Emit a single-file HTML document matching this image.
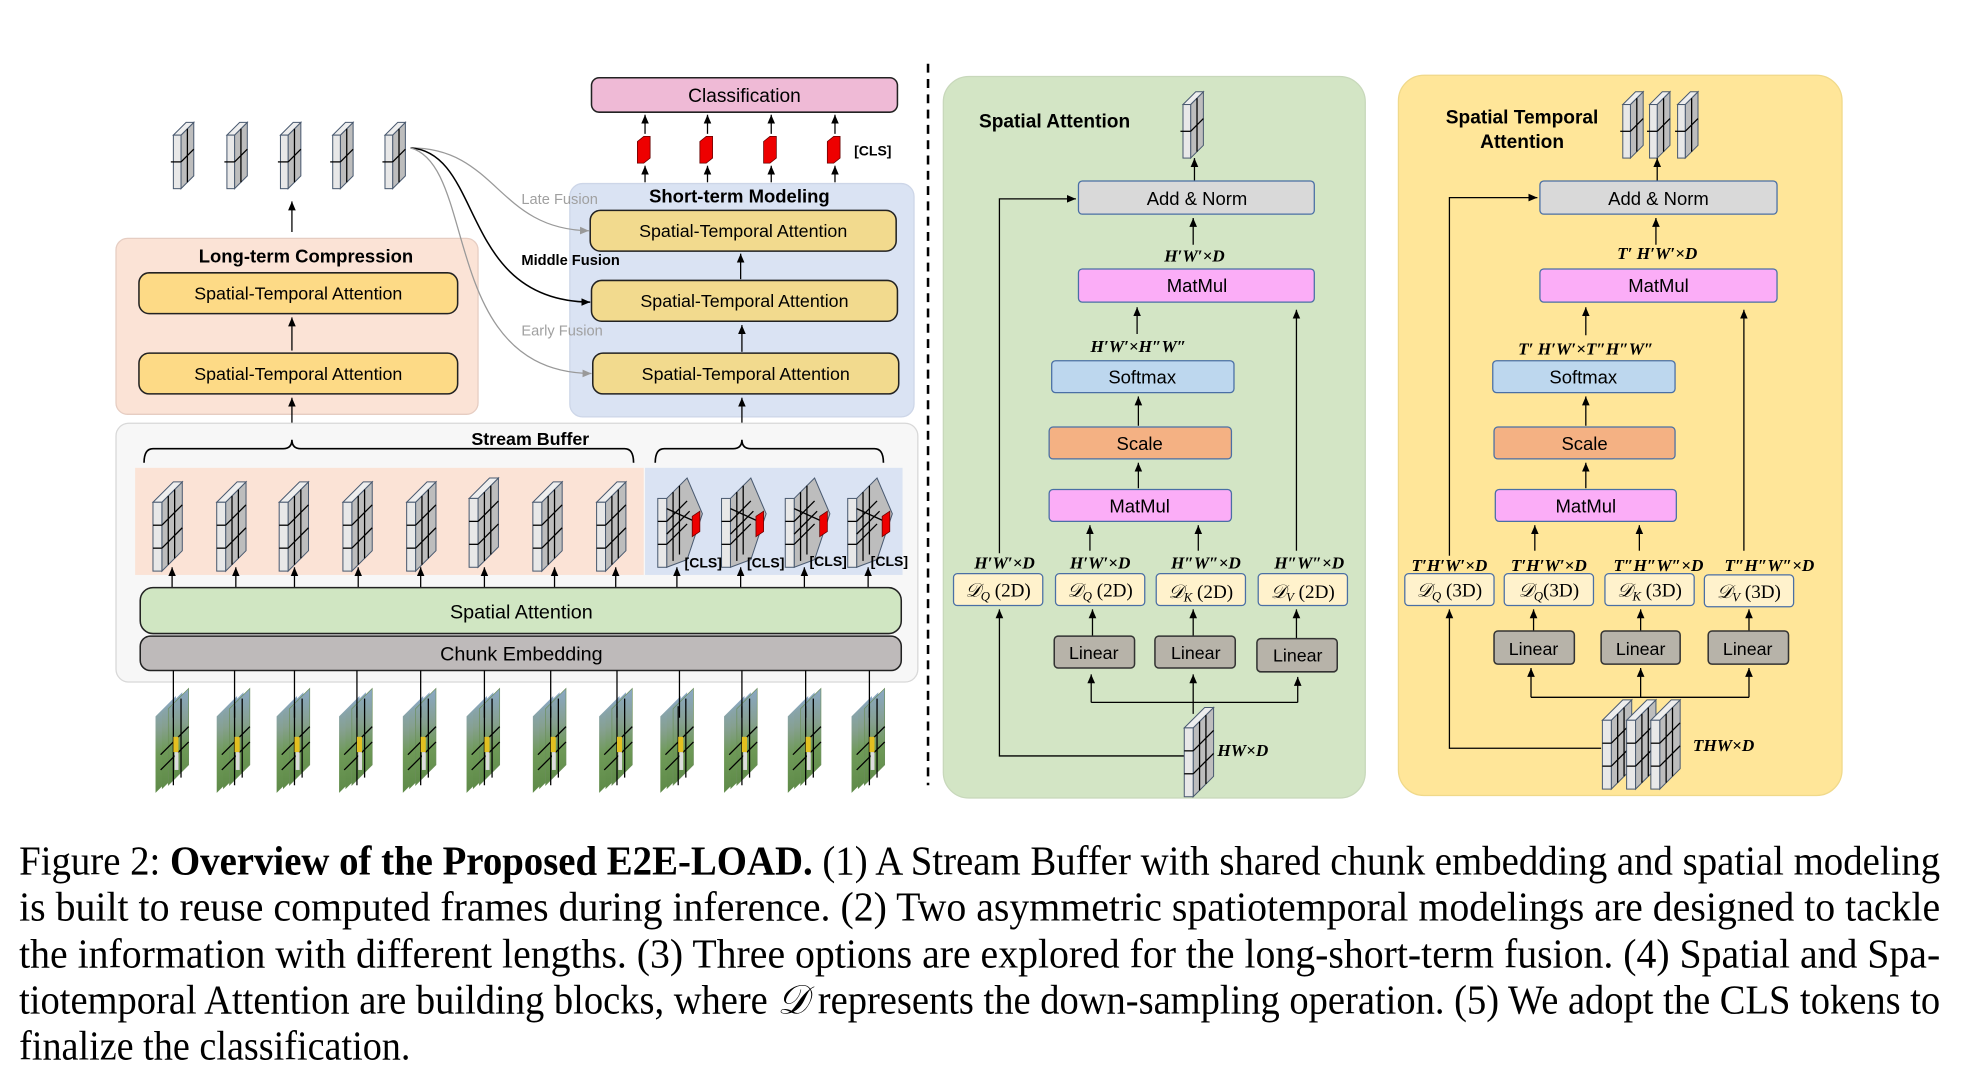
<!DOCTYPE html>
<html><head><meta charset="utf-8"><style>
html,body{margin:0;padding:0;background:#fff;}
svg{display:block;}
.t{font-family:"Liberation Sans",sans-serif;fill:#000;}
.m{font-family:"Liberation Serif",serif;font-style:italic;font-weight:bold;font-size:13.5px;fill:#000;}
.c{font-family:"Liberation Serif",serif;font-size:32px;fill:#000;}
</style></head><body>
<svg width="1981" height="1087" viewBox="0 0 1554 852.7" xmlns="http://www.w3.org/2000/svg">
<defs>
<marker id="ah" markerWidth="8" markerHeight="8" refX="7" refY="4" orient="auto" markerUnits="userSpaceOnUse"><path d="M0,1 L7,4 L0,7 Z" fill="#000"/></marker>
<marker id="ag" markerWidth="8" markerHeight="8" refX="7" refY="4" orient="auto" markerUnits="userSpaceOnUse"><path d="M0,1 L7,4 L0,7 Z" fill="#999"/></marker>
<linearGradient id="vg" x1="0" y1="0" x2="0" y2="1"><stop offset="0" stop-color="#8aa8c6"/><stop offset="0.35" stop-color="#86a090"/><stop offset="0.6" stop-color="#6f9a58"/><stop offset="1" stop-color="#5e8a48"/></linearGradient>
<g id="slab">
<polygon points="8,10 18,0 18,42 8,52" fill="#bdbdbd" stroke="#4a5a70" stroke-width="0.8"/>
<polygon points="2,10 12,0 18,0 8,10" fill="#eee" stroke="#4a5a70" stroke-width="0.8"/>
<rect x="2" y="10" width="6" height="42" fill="#e8e8e8" stroke="#4a5a70" stroke-width="0.8"/>
<line x1="0" y1="31" x2="8" y2="31" stroke="#000" stroke-width="1"/><line x1="8" y1="31" x2="18" y2="21" stroke="#000"/>
<line x1="13" y1="5" x2="13" y2="47" stroke="#000"/>
</g>
<g id="bc">
<polygon points="8,16 24,0 24,54 8,70" fill="#bdbdbd" stroke="#4a5a70" stroke-width="0.8"/>
<polygon points="1,16 17,0 24,0 8,16" fill="#eee" stroke="#4a5a70" stroke-width="0.8"/>
<rect x="1" y="16" width="7" height="54" fill="#e8e8e8" stroke="#4a5a70" stroke-width="0.8"/>
<line x1="1" y1="34" x2="8" y2="34" stroke="#000"/><line x1="1" y1="52" x2="8" y2="52" stroke="#000"/>
<line x1="8" y1="34" x2="24" y2="18" stroke="#000"/><line x1="8" y1="52" x2="24" y2="36" stroke="#000"/>
<line x1="13" y1="11" x2="13" y2="65" stroke="#000"/><line x1="18" y1="6" x2="18" y2="60" stroke="#000"/>
</g>
<g id="cc">
<polygon points="8,16 24,0 36,28 24,64 8,70" fill="#bdbdbd" stroke="#4a5a70" stroke-width="0.8"/>
<rect x="1" y="16" width="7" height="54" fill="#e8e8e8" stroke="#4a5a70" stroke-width="0.8"/>
<line x1="1" y1="34" x2="8" y2="34" stroke="#000"/><line x1="1" y1="52" x2="8" y2="52" stroke="#000"/>
<line x1="8" y1="34" x2="24" y2="18" stroke="#000"/><line x1="8" y1="52" x2="24" y2="36" stroke="#000"/>
<line x1="13" y1="11" x2="13" y2="65" stroke="#000"/><line x1="18" y1="6" x2="18" y2="60" stroke="#000"/>
<line x1="8" y1="24" x2="30" y2="34" stroke="#000"/><line x1="8" y1="44" x2="26" y2="26" stroke="#000"/>
<polygon points="28,30 34,26 34,42 28,46" fill="#e00" stroke="#600" stroke-width="0.6"/>
</g>
<g id="fr">
<polygon points="0,22 16,6 16,66 0,82" fill="url(#vg)"/>
<polygon points="5,19 21,3 21,63 5,79" fill="url(#vg)"/>
<polygon points="10,16 26,0 26,60 10,76" fill="url(#vg)" stroke="#6b8e5a" stroke-width="0.5"/>
<line x1="4" y1="52" x2="26" y2="30" stroke="#000"/><line x1="4" y1="64" x2="26" y2="42" stroke="#000"/>
<line x1="14" y1="14" x2="14" y2="76" stroke="#000"/><line x1="20" y1="8" x2="20" y2="70" stroke="#000"/>
<rect x="14" y="38" width="4" height="12" fill="#e3c020"/>
<rect x="15" y="50" width="3" height="14" fill="#ddd"/>
</g>
</defs>

<line x1="728" y1="50" x2="728" y2="616" stroke="#000" stroke-width="2" stroke-dasharray="7,5"/>

<use href="#slab" x="134" y="96"/><use href="#slab" x="176" y="96"/><use href="#slab" x="218" y="96"/><use href="#slab" x="259" y="96"/><use href="#slab" x="300" y="96"/>
<line x1="229" y1="182" x2="229" y2="158" stroke="#000" marker-end="url(#ah)"/>

<rect x="91" y="187" width="284" height="138" rx="9" fill="#fbe3d6" stroke="#e6cdc2"/>
<text class="t" x="240" y="206" font-size="14.5" font-weight="bold" text-anchor="middle">Long-term Compression</text>
<rect x="109" y="214" width="250" height="32" rx="8" fill="#fdda86" stroke="#222" stroke-width="1.2"/>
<text class="t" x="234" y="235" font-size="14" text-anchor="middle">Spatial-Temporal Attention</text>
<rect x="109" y="277" width="250" height="32" rx="8" fill="#fdda86" stroke="#222" stroke-width="1.2"/>
<text class="t" x="234" y="298" font-size="14" text-anchor="middle">Spatial-Temporal Attention</text>
<line x1="229" y1="275" x2="229" y2="249" stroke="#000" marker-end="url(#ah)"/>
<line x1="229" y1="339" x2="229" y2="312" stroke="#000" marker-end="url(#ah)"/>

<rect x="447" y="144" width="270" height="183" rx="10" fill="#dae3f3" stroke="#cdd6e8"/>
<text class="t" x="580" y="159" font-size="14.5" font-weight="bold" text-anchor="middle">Short-term Modeling</text>
<rect x="463" y="165" width="240" height="32" rx="8" fill="#f2da8e" stroke="#222" stroke-width="1.2"/>
<text class="t" x="583" y="186" font-size="14" text-anchor="middle">Spatial-Temporal Attention</text>
<rect x="464" y="220" width="240" height="32" rx="8" fill="#f2da8e" stroke="#222" stroke-width="1.2"/>
<text class="t" x="584" y="241" font-size="14" text-anchor="middle">Spatial-Temporal Attention</text>
<rect x="465" y="277" width="240" height="32" rx="8" fill="#f2da8e" stroke="#222" stroke-width="1.2"/>
<text class="t" x="585" y="298" font-size="14" text-anchor="middle">Spatial-Temporal Attention</text>
<line x1="581" y1="219" x2="581" y2="199" stroke="#000" marker-end="url(#ah)"/>
<line x1="582" y1="276" x2="582" y2="255" stroke="#000" marker-end="url(#ah)"/>
<line x1="582" y1="339" x2="582" y2="312" stroke="#000" marker-end="url(#ah)"/>

<rect x="464" y="61" width="240" height="27" rx="6" fill="#efbad6" stroke="#222" stroke-width="1.2"/>
<text class="t" x="584" y="80" font-size="15" text-anchor="middle">Classification</text>
<g>
<polygon points="500,111 505,107 510,107 510,124 505,128 500,128" fill="#e00" stroke="#600" stroke-width="0.6"/>
<polygon points="549,111 554,107 559,107 559,124 554,128 549,128" fill="#e00" stroke="#600" stroke-width="0.6"/>
<polygon points="599,111 604,107 609,107 609,124 604,128 599,128" fill="#e00" stroke="#600" stroke-width="0.6"/>
<polygon points="649,111 654,107 659,107 659,124 654,128 649,128" fill="#e00" stroke="#600" stroke-width="0.6"/>
</g>
<g stroke="#000" marker-end="url(#ah)">
<line x1="506" y1="105" x2="506" y2="90"/><line x1="555" y1="105" x2="555" y2="90"/><line x1="605" y1="105" x2="605" y2="90"/><line x1="655" y1="105" x2="655" y2="90"/>
<line x1="506" y1="143" x2="506" y2="130"/><line x1="555" y1="143" x2="555" y2="130"/><line x1="605" y1="143" x2="605" y2="130"/><line x1="655" y1="143" x2="655" y2="130"/>
</g>
<text class="t" x="670" y="122" font-size="11" font-weight="bold">[CLS]</text>

<path d="M322,116 C390,116 390,180 462,181" fill="none" stroke="#999" stroke-width="1" marker-end="url(#ag)"/>
<path d="M322,116 C380,120 360,236 463,237" fill="none" stroke="#000" stroke-width="1.2" marker-end="url(#ah)"/>
<path d="M322,116 C375,130 345,292 464,293" fill="none" stroke="#999" stroke-width="1" marker-end="url(#ag)"/>
<text class="t" x="409" y="160" font-size="11.5" style="fill:#a0a0a0">Late Fusion</text>
<text class="t" x="409" y="208" font-size="11.5" font-weight="bold">Middle  Fusion</text>
<text class="t" x="409" y="263" font-size="11.5" style="fill:#a0a0a0">Early Fusion</text>

<rect x="91" y="332" width="629" height="203" rx="10" fill="#f7f7f7" stroke="#d8d8d8"/>
<text class="t" x="416" y="349" font-size="14" font-weight="bold" text-anchor="middle">Stream Buffer</text>
<path d="M113,363 Q113,352 120,352 L222,352 Q229,352 229,345 Q229,352 236,352 L490,352 Q497,352 497,363" fill="none" stroke="#000" stroke-width="1.3"/>
<path d="M514,363 Q514,352 521,352 L575,352 Q582,352 582,345 Q582,352 589,352 L686,352 Q693,352 693,363" fill="none" stroke="#000" stroke-width="1.3"/>
<rect x="106" y="367" width="399" height="84" fill="#fbe3d6"/>
<rect x="506" y="367" width="202" height="84" fill="#dae3f3"/>
<use href="#bc" x="119" y="378"/><use href="#bc" x="169" y="378"/><use href="#bc" x="218" y="378"/><use href="#bc" x="268" y="378"/><use href="#bc" x="318" y="378"/><use href="#bc" x="367" y="375"/><use href="#bc" x="417" y="378"/><use href="#bc" x="467" y="378"/>
<use href="#cc" x="515" y="375"/><use href="#cc" x="565" y="375"/><use href="#cc" x="615" y="375"/><use href="#cc" x="664" y="375"/>
<g class="t" font-size="11" font-weight="bold"><text x="537" y="445">[CLS]</text><text x="586" y="445">[CLS]</text><text x="635" y="444">[CLS]</text><text x="683" y="444">[CLS]</text></g>
<g stroke="#000" marker-end="url(#ah)">
<line x1="135" y1="461" x2="135" y2="445"/><line x1="185" y1="461" x2="185" y2="445"/><line x1="231" y1="461" x2="231" y2="445"/><line x1="281" y1="461" x2="281" y2="445"/><line x1="330" y1="461" x2="330" y2="445"/><line x1="380" y1="461" x2="380" y2="445"/><line x1="435" y1="461" x2="435" y2="445"/><line x1="483" y1="461" x2="483" y2="445"/>
<line x1="531" y1="461" x2="531" y2="445"/><line x1="581" y1="461" x2="581" y2="445"/><line x1="631" y1="461" x2="631" y2="445"/><line x1="681" y1="461" x2="681" y2="445"/>
</g>
<rect x="110" y="461" width="597" height="36" rx="10" fill="#d0e6c2" stroke="#222" stroke-width="1.2"/>
<text class="t" x="409" y="485" font-size="15.5" text-anchor="middle">Spatial Attention</text>
<rect x="110" y="499" width="597" height="27" rx="8" fill="#bebaba" stroke="#222" stroke-width="1.2"/>
<text class="t" x="409" y="518" font-size="15.5" text-anchor="middle">Chunk Embedding</text>

<g>
<use href="#fr" x="122" y="540"/><use href="#fr" x="170" y="540"/><use href="#fr" x="217" y="540"/><use href="#fr" x="266" y="540"/><use href="#fr" x="316" y="540"/><use href="#fr" x="366" y="540"/><use href="#fr" x="418" y="540"/><use href="#fr" x="470" y="540"/><use href="#fr" x="518" y="540"/><use href="#fr" x="568" y="540"/><use href="#fr" x="618" y="540"/><use href="#fr" x="668" y="540"/>
</g>
<g stroke="#000" stroke-width="1">
<line x1="136" y1="526" x2="136" y2="563"/><line x1="184" y1="526" x2="184" y2="563"/><line x1="231" y1="526" x2="231" y2="563"/><line x1="280" y1="526" x2="280" y2="563"/><line x1="330" y1="526" x2="330" y2="563"/><line x1="380" y1="526" x2="380" y2="563"/><line x1="432" y1="526" x2="432" y2="563"/><line x1="484" y1="526" x2="484" y2="563"/><line x1="533" y1="526" x2="533" y2="563"/><line x1="582" y1="526" x2="582" y2="563"/><line x1="632" y1="526" x2="632" y2="563"/><line x1="682" y1="526" x2="682" y2="563"/>
</g>

<!-- Green panel -->
<rect x="740" y="60" width="331" height="566" rx="20" fill="#d3e5c5" stroke="#c8d8bb"/>
<text class="t" x="768" y="100" font-size="15" font-weight="bold">Spatial Attention</text>
<use href="#slab" x="926" y="72"/>
<g stroke="#000" fill="none" marker-end="url(#ah)">
<line x1="937" y1="142" x2="937" y2="124"/>
<line x1="936" y1="192" x2="936" y2="171"/>
<line x1="892" y1="262" x2="892" y2="241"/>
<line x1="893" y1="334" x2="893" y2="311"/>
<line x1="893" y1="383" x2="893" y2="363"/>
<line x1="855" y1="432" x2="855" y2="412"/>
<line x1="940" y1="432" x2="940" y2="412"/>
<line x1="1017" y1="432" x2="1017" y2="243"/>
<polyline points="784,434 784,156 844,156"/>
<polyline points="930,593 784,593 784,478"/>
<line x1="857" y1="499" x2="857" y2="478"/>
<line x1="936" y1="499" x2="936" y2="478"/>
<line x1="1017" y1="501" x2="1017" y2="478"/>
<line x1="856" y1="551" x2="856" y2="529"/>
<line x1="936" y1="551" x2="936" y2="529"/>
<line x1="1018" y1="551" x2="1018" y2="531"/>
</g>
<line x1="856" y1="551" x2="1018" y2="551" stroke="#000"/>
<line x1="936" y1="551" x2="936" y2="560" stroke="#000"/>
<rect x="846" y="142" width="185" height="26" rx="3" fill="#d9d9d9" stroke="#4a6fa5"/>
<text class="t" x="939" y="161" font-size="14.5" text-anchor="middle">Add &amp; Norm</text>
<text class="m" x="937" y="205" text-anchor="middle">H′W′×D</text>
<rect x="846" y="211" width="185" height="26" rx="3" fill="#fbadf7" stroke="#4a6fa5"/>
<text class="t" x="939" y="229" font-size="14.5" text-anchor="middle">MatMul</text>
<text class="m" x="893" y="276" text-anchor="middle">H′W′×H″W″</text>
<rect x="825" y="283" width="143" height="25" rx="3" fill="#bdd7ee" stroke="#4a6fa5"/>
<text class="t" x="896" y="301" font-size="14.5" text-anchor="middle">Softmax</text>
<rect x="823" y="335" width="143" height="25" rx="3" fill="#f4b183" stroke="#4a6fa5"/>
<text class="t" x="894" y="353" font-size="14.5" text-anchor="middle">Scale</text>
<rect x="823" y="384" width="143" height="25" rx="3" fill="#fbadf7" stroke="#4a6fa5"/>
<text class="t" x="894" y="402" font-size="14.5" text-anchor="middle">MatMul</text>
<text class="m" x="788" y="446" text-anchor="middle">H′W′×D</text>
<text class="m" x="863" y="446" text-anchor="middle">H′W′×D</text>
<text class="m" x="946" y="446" text-anchor="middle">H″W″×D</text>
<text class="m" x="1027" y="446" text-anchor="middle">H″W″×D</text>
<g fill="#fff2cc" stroke="#4a6fa5">
<rect x="748" y="450" width="70" height="25" rx="3"/><rect x="828" y="450" width="70" height="25" rx="3"/><rect x="907" y="450" width="70" height="25" rx="3"/><rect x="987" y="450" width="70" height="25" rx="3"/>
</g>
<g font-family="Liberation Serif,serif" font-size="15" text-anchor="middle">
<text x="783" y="468"><tspan font-style="italic">𝒟<tspan font-size="10" dy="3">Q</tspan></tspan><tspan dy="-3"> (2D)</tspan></text>
<text x="863" y="468"><tspan font-style="italic">𝒟<tspan font-size="10" dy="3">Q</tspan></tspan><tspan dy="-3"> (2D)</tspan></text>
<text x="942" y="469"><tspan font-style="italic">𝒟<tspan font-size="10" dy="3">K</tspan></tspan><tspan dy="-3"> (2D)</tspan></text>
<text x="1022" y="469"><tspan font-style="italic">𝒟<tspan font-size="10" dy="3">V</tspan></tspan><tspan dy="-3"> (2D)</tspan></text>
</g>
<g fill="#b7b3a9" stroke="#333" stroke-width="1.2">
<rect x="827" y="499" width="63" height="25" rx="3"/><rect x="906" y="499" width="63" height="25" rx="3"/><rect x="986" y="501" width="63" height="26" rx="3"/>
</g>
<g class="t" font-size="14" text-anchor="middle"><text x="858" y="517">Linear</text><text x="938" y="517">Linear</text><text x="1018" y="519">Linear</text></g>
<use href="#bc" x="928" y="555"/>
<text class="m" x="955" y="593">HW×D</text>

<!-- Yellow panel -->
<rect x="1097" y="59" width="348" height="565" rx="20" fill="#ffe699" stroke="#f0d98a"/>
<text class="t" x="1194" y="97" font-size="15" font-weight="bold" text-anchor="middle">Spatial Temporal</text>
<text class="t" x="1194" y="116" font-size="15" font-weight="bold" text-anchor="middle">Attention</text>
<use href="#slab" x="1271" y="72"/><use href="#slab" x="1292" y="72"/><use href="#slab" x="1314" y="72"/>
<g stroke="#000" fill="none" marker-end="url(#ah)">
<line x1="1300" y1="142" x2="1300" y2="124"/>
<line x1="1299" y1="192" x2="1299" y2="171"/>
<line x1="1244" y1="263" x2="1244" y2="241"/>
<line x1="1244" y1="334" x2="1244" y2="311"/>
<line x1="1244" y1="383" x2="1244" y2="363"/>
<line x1="1204" y1="432" x2="1204" y2="412"/>
<line x1="1286" y1="432" x2="1286" y2="412"/>
<line x1="1368" y1="432" x2="1368" y2="243"/>
<polyline points="1137,436 1137,155 1206,155"/>
<polyline points="1256,587 1137,587 1137,478"/>
<line x1="1203" y1="495" x2="1203" y2="478"/>
<line x1="1287" y1="495" x2="1287" y2="478"/>
<line x1="1372" y1="495" x2="1372" y2="478"/>
<line x1="1201" y1="547" x2="1201" y2="524"/>
<line x1="1287" y1="547" x2="1287" y2="524"/>
<line x1="1372" y1="547" x2="1372" y2="524"/>
</g>
<line x1="1201" y1="547" x2="1372" y2="547" stroke="#000"/>
<rect x="1208" y="142" width="186" height="26" rx="3" fill="#d9d9d9" stroke="#4a6fa5"/>
<text class="t" x="1301" y="161" font-size="14.5" text-anchor="middle">Add &amp; Norm</text>
<text class="m" x="1300" y="203" text-anchor="middle">T′ H′W′×D</text>
<rect x="1208" y="211" width="186" height="26" rx="3" fill="#fbadf7" stroke="#4a6fa5"/>
<text class="t" x="1301" y="229" font-size="14.5" text-anchor="middle">MatMul</text>
<text class="m" x="1244" y="278" text-anchor="middle">T′ H′W′×T″H″W″</text>
<rect x="1171" y="283" width="143" height="25" rx="3" fill="#bdd7ee" stroke="#4a6fa5"/>
<text class="t" x="1242" y="301" font-size="14.5" text-anchor="middle">Softmax</text>
<rect x="1172" y="335" width="142" height="25" rx="3" fill="#f4b183" stroke="#4a6fa5"/>
<text class="t" x="1243" y="353" font-size="14.5" text-anchor="middle">Scale</text>
<rect x="1173" y="384" width="142" height="25" rx="3" fill="#fbadf7" stroke="#4a6fa5"/>
<text class="t" x="1244" y="402" font-size="14.5" text-anchor="middle">MatMul</text>
<text class="m" x="1137" y="448" text-anchor="middle">T′H′W′×D</text>
<text class="m" x="1215" y="448" text-anchor="middle">T′H′W′×D</text>
<text class="m" x="1301" y="448" text-anchor="middle">T″H″W″×D</text>
<text class="m" x="1388" y="448" text-anchor="middle">T″H″W″×D</text>
<g fill="#fff2cc" stroke="#4a6fa5">
<rect x="1102" y="450" width="70" height="25" rx="3"/><rect x="1180" y="450" width="70" height="25" rx="3"/><rect x="1259" y="450" width="70" height="25" rx="3"/><rect x="1337" y="451" width="70" height="25" rx="3"/>
</g>
<g font-family="Liberation Serif,serif" font-size="15" text-anchor="middle">
<text x="1137" y="468"><tspan font-style="italic">𝒟<tspan font-size="10" dy="3">Q</tspan></tspan><tspan dy="-3"> (3D)</tspan></text>
<text x="1215" y="468"><tspan font-style="italic">𝒟<tspan font-size="10" dy="3">Q</tspan></tspan><tspan dy="-3">(3D)</tspan></text>
<text x="1294" y="468"><tspan font-style="italic">𝒟<tspan font-size="10" dy="3">K</tspan></tspan><tspan dy="-3"> (3D)</tspan></text>
<text x="1372" y="469"><tspan font-style="italic">𝒟<tspan font-size="10" dy="3">V</tspan></tspan><tspan dy="-3"> (3D)</tspan></text>
</g>
<g fill="#b7b3a9" stroke="#333" stroke-width="1.2">
<rect x="1172" y="495" width="63" height="26" rx="3"/><rect x="1256" y="495" width="62" height="26" rx="3"/><rect x="1340" y="495" width="63" height="26" rx="3"/>
</g>
<g class="t" font-size="14" text-anchor="middle"><text x="1203" y="514">Linear</text><text x="1287" y="514">Linear</text><text x="1371" y="514">Linear</text></g>
<use href="#bc" x="1256" y="549"/><use href="#bc" x="1275" y="549"/><use href="#bc" x="1294" y="549"/>
<text class="m" x="1328" y="589">THW×D</text>

<!-- caption -->
<text class="c" x="15" y="686" textLength="1507" lengthAdjust="spacingAndGlyphs">Figure 2: <tspan font-weight="bold">Overview of the Proposed E2E-LOAD.</tspan> (1) A Stream Buffer with shared chunk embedding and spatial modeling</text>
<text class="c" x="15" y="722" textLength="1507" lengthAdjust="spacingAndGlyphs">is built to reuse computed frames during inference.  (2) Two asymmetric spatiotemporal modelings are designed to tackle</text>
<text class="c" x="15" y="759" textLength="1507" lengthAdjust="spacingAndGlyphs">the information with different lengths.  (3) Three options are explored for the long-short-term fusion.  (4) Spatial and Spa-</text>
<text class="c" x="15" y="795" textLength="1507" lengthAdjust="spacingAndGlyphs">tiotemporal Attention are building blocks, where <tspan font-style="italic">𝒟</tspan> represents the down-sampling operation. (5) We adopt the CLS tokens to</text>
<text class="c" x="15" y="831" textLength="307" lengthAdjust="spacingAndGlyphs">finalize the classification.</text>
</svg>
</body></html>
